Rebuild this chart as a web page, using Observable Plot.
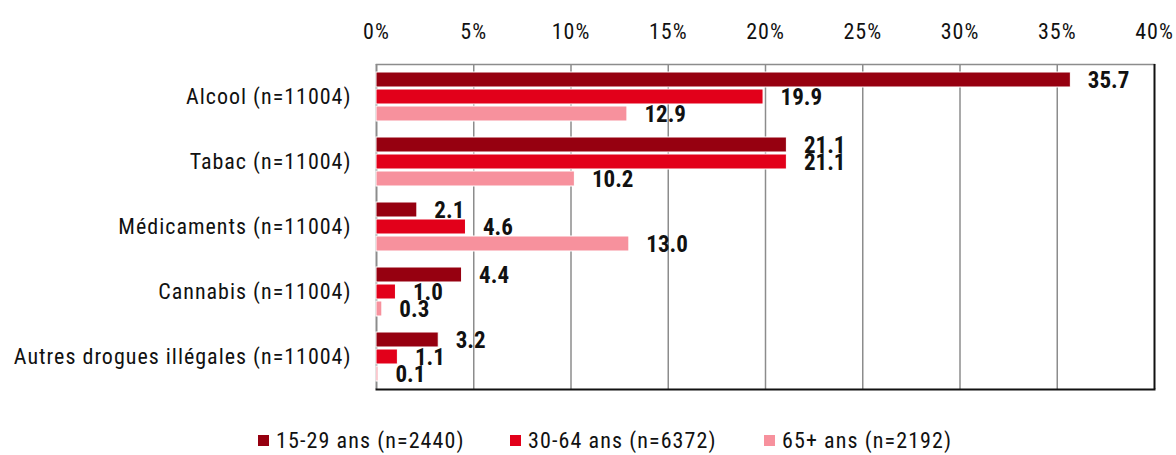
<!DOCTYPE html>
<html>
<head>
<meta charset="utf-8">
<script src="https://cdn.jsdelivr.net/npm/d3@7"></script>
<script src="https://cdn.jsdelivr.net/npm/@observablehq/plot@0.6"></script>
<style>
  html, body { margin: 0; padding: 0; background: #fff; }
  body { width: 1176px; height: 455px; overflow: hidden; font-family: "Roboto Condensed", "Open Sans", sans-serif; }
  svg text { letter-spacing: 1px; }
  svg g.vals text { letter-spacing: 0; }
  #legend { position: relative; height: 40px; }
  .item { position: absolute; top: 13px; display: flex; align-items: center; font-size: 22px; color: #111; white-space: nowrap; letter-spacing: 1.1px; }
  .sw { width: 11px; height: 11px; margin-right: 7px; }
</style>
</head>
<body>
<div id="chart"></div>
<div id="legend"></div>
<script>
const categories = ["Alcool (n=11004)", "Tabac (n=11004)", "Médicaments (n=11004)", "Cannabis (n=11004)", "Autres drogues illégales (n=11004)"];
const series = ["15-29 ans (n=2440)", "30-64 ans (n=6372)", "65+ ans (n=2192)"];
const values15_29 = [35.7, 21.1, 2.1, 4.4, 3.2];
const values30_64 = [19.9, 21.1, 4.6, 1.0, 1.1];
const values65 = [12.9, 10.2, 13.0, 0.3, 0.1];
const xTicks = [0, 5, 10, 15, 20, 25, 30, 35, 40];
const colors = ["#960010", "#e2001a", "#f7919d"];

const allValues = [values15_29, values30_64, values65];
const data = [];
categories.forEach((c, i) => {
  series.forEach((s, j) => data.push({cat: c, series: s, value: allValues[j][i]}));
});

const chart = Plot.plot({
  width: 1176,
  height: 415,
  marginLeft: 376,
  marginRight: 22,
  marginTop: 62,
  marginBottom: 25,
  style: {fontFamily: "'Roboto Condensed', 'Open Sans', sans-serif", fontSize: "22px", color: "#111", background: "white"},
  x: {domain: [0, 40], ticks: xTicks, tickFormat: d => d + "%", axis: "top", label: null, tickSize: 0, tickPadding: 26},
  fy: {domain: categories, padding: 0, axis: "left", label: null, tickSize: 0, tickPadding: 25},
  y: {domain: series, paddingInner: 0.115, paddingOuter: 0.45, axis: null},
  color: {domain: series, range: colors},
  marks: [
    Plot.ruleX(xTicks.filter(t => t > 0 && t < 40), {stroke: "#8c8c8c", strokeWidth: 1.5}),
    Plot.frame({anchor: "top", facetAnchor: "top", stroke: "#8c8c8c", strokeWidth: 1.5}),
    Plot.ruleX([0], {stroke: "#8c8c8c", strokeWidth: 2}),
    Plot.barX(data, {fy: "cat", y: "series", x: "value", fill: "series", stroke: "white", strokeWidth: 1}),
    Plot.text(data, {fy: "cat", y: "series", x: "value", text: d => d.value.toFixed(1), dx: 17, dy: 1, textAnchor: "start", fontSize: 23, fontWeight: "bold", fill: "#111", className: "vals"}),
    Plot.ruleX([40], {stroke: "#111", strokeWidth: 2}),
    Plot.frame({anchor: "bottom", facetAnchor: "bottom", stroke: "#111", strokeWidth: 2})
  ]
});
document.getElementById("chart").appendChild(chart);

const legend = document.getElementById("legend");
const lefts = [258, 510, 764];
series.forEach((s, j) => {
  const it = document.createElement("div");
  it.className = "item";
  it.style.left = lefts[j] + "px";
  const sw = document.createElement("span");
  sw.className = "sw";
  sw.style.background = colors[j];
  const tx = document.createElement("span");
  tx.textContent = s;
  it.appendChild(sw);
  it.appendChild(tx);
  legend.appendChild(it);
});
</script>
</body>
</html>
